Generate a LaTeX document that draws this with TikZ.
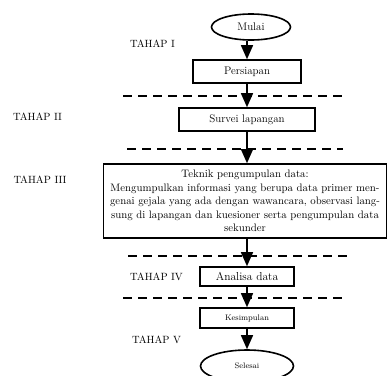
\documentclass[tikz,border=0pt]{standalone}
\usepackage{tikz}
\usetikzlibrary{shapes.geometric,arrows.meta}

\tikzset{
  stagebox/.style={draw, line width=1.6pt, rectangle, inner sep=1pt},
  termnode/.style={draw, line width=1.6pt, ellipse, inner sep=0pt},
  flow/.style={line width=1.5pt, -{Triangle[length=14pt, width=12pt]}},
  phaseline/.style={line width=1.5pt, dash pattern=on 9pt off 6pt},
  phaselabel/.style={font=\fontsize{10.5}{12}\selectfont}
}

\begin{document}
\begin{tikzpicture}[x=1pt, y=-1pt]
  \clip (0,0) rectangle (388,375);

  % Start and end terminals
  \node[termnode, minimum width=79pt, minimum height=26pt,
        font=\fontsize{11}{13}\selectfont] (mulai) at (251,27) {Mulai};
  \node[termnode, minimum width=93pt, minimum height=32pt,
        font=\fontsize{8}{10}\selectfont] (selesai) at (247,366) {Selesai};

  % Process boxes
  \node[stagebox, minimum width=108pt, minimum height=23pt,
        font=\fontsize{11}{13}\selectfont] (persiapan) at (247,71.5) {Persiapan};
  \node[stagebox, minimum width=136pt, minimum height=23pt,
        font=\fontsize{11}{13}\selectfont] (survei) at (247,119.5) {Survei lapangan};
  \node[stagebox, minimum width=283pt, minimum height=74pt, align=center,
        font=\fontsize{10.8}{13.4}\selectfont] (teknik) at (245,201)
        {Teknik pengumpulan data:\\
         Mengumpulkan informasi yang berupa data primer men-\\
         genai gejala yang ada dengan wawancara, observasi lang-\\
         sung di lapangan dan kuesioner serta pengumpulan data\\
         sekunder};
  \node[stagebox, minimum width=94pt, minimum height=19pt,
        font=\fontsize{11.5}{13}\selectfont] (analisa) at (247,276.5) {Analisa data};
  \node[stagebox, minimum width=94pt, minimum height=20pt,
        font=\fontsize{8}{10}\selectfont] (kesimpulan) at (247,318) {Kesimpulan};

  % Phase separators
  \draw[phaseline] (123,96) -- (342,96);
  \draw[phaseline] (127,149) -- (343,149);
  \draw[phaseline] (128,256) -- (347,256);
  \draw[phaseline] (123,298) -- (342,298);

  % Phase labels
  \node[phaselabel] (tahapI) at (152.5,44) {TAHAP I};
  \node[phaselabel] (tahapII) at (37.5,117) {TAHAP II};
  \node[phaselabel] (tahapIII) at (40,180) {TAHAP III};
  \node[phaselabel] (tahapIV) at (156.5,277) {TAHAP IV};
  \node[phaselabel] (tahapV) at (156.5,340) {TAHAP V};

  % Flow arrows
  \draw[flow] (mulai.south -| persiapan) -- (persiapan.north);
  \draw[flow] (persiapan) -- (survei);
  \draw[flow] (survei.south) -- (survei.south |- teknik.north);
  \draw[flow] (analisa |- teknik.south) -- (analisa.north);
  \draw[flow] (analisa) -- (kesimpulan);
  \draw[flow] (kesimpulan) -- (selesai);
\end{tikzpicture}
\end{document}
